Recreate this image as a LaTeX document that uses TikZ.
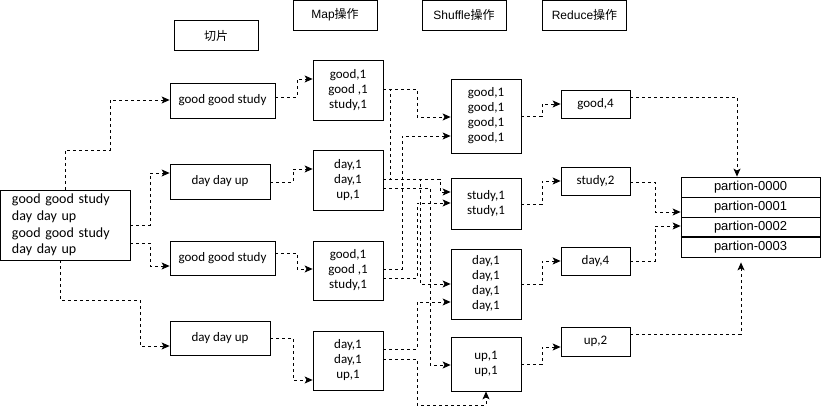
\documentclass[tikz,border=0pt]{standalone}
\usepackage{fontspec}
\setmainfont{Carlito}
\newfontfamily\arialfont{Liberation Sans}
\newfontfamily\cjk{Noto Sans CJK SC}
\usetikzlibrary{arrows.meta}

\tikzset{
	box/.style={draw, line width=0.8pt, inner sep=0pt, align=center, font=\fontsize{13}{15}\selectfont},
	head/.style={draw, line width=0.8pt, inner sep=0pt, minimum width=84pt, minimum height=30pt, font=\arialfont\fontsize{12}{14}\selectfont},
	part/.style={draw, line width=0.8pt, inner sep=0pt, minimum width=139pt, minimum height=20pt, font=\arialfont\fontsize{13}{15}\selectfont},
	flow/.style={draw, line width=0.8pt, dash pattern=on 3pt off 3pt, -{Stealth[length=8pt, width=7pt, inset=2pt]}}
}

\begin{document}
\begin{tikzpicture}[x=1pt, y=-1pt]
				
				\useasboundingbox (0,0) rectangle (821,419);
				
				\node[head] (cut) at (216,35.5) {{\cjk 切片}};
				
				\node[head] (hmap) at (335,15) {Map{\cjk 操作}};
				
				\node[head] (hshuf) at (464,15) {Shuffle{\cjk 操作}};
				
				\node[head] (hred) at (584.5,15) {Reduce{\cjk 操作}};
				
				\node[box, align=left, inner xsep=12pt, text width=106pt, minimum height=70pt, font=\fontsize{14}{16.7}\selectfont] (in) at (65,225) {good good study\\day day up\\good good study\\day day up};
				
				\node[box, minimum width=105pt, minimum height=35pt] (s1) at (222.5,100.5) {good good study};
				
				\node[box, minimum width=100pt, minimum height=35pt] (s2) at (220,181.5) {day day up};
				
				\node[box, minimum width=105pt, minimum height=34pt] (s3) at (222.5,258) {good good study};
				
				\node[box, minimum width=100pt, minimum height=34pt] (s4) at (220,338) {day day up};
				
				\node[box, minimum width=70pt, minimum height=60pt] (m1) at (348,90) {good,1\\good ,1\\study,1};
				
				\node[box, minimum width=70pt, minimum height=60pt] (m2) at (348,180) {day,1\\day,1\\up,1};
				
				\node[box, minimum width=70pt, minimum height=59pt] (m3) at (348,270.5) {good,1\\good ,1\\study,1};
				
				\node[box, minimum width=70pt, minimum height=59pt] (m4) at (348,360.5) {day,1\\day,1\\up,1};
				
				\node[box, minimum width=70pt, minimum height=74pt] (sh1) at (486,116) {good,1\\good,1\\good,1\\good,1};
				
				\node[box, minimum width=70pt, minimum height=51pt] (sh2) at (486,203.5) {study,1\\study,1};
				
				\node[box, minimum width=70pt, minimum height=70pt] (sh3) at (486,284) {day,1\\day,1\\day,1\\day,1};
				
				\node[box, minimum width=70pt, minimum height=54pt] (sh4) at (486,364) {up,1\\up,1};
				
				\node[box, minimum width=69pt, minimum height=28pt] (r1) at (595.5,104) {good,4};
				
				\node[box, minimum width=69pt, minimum height=28pt] (r2) at (595.5,181) {study,2};
				
				\node[box, minimum width=69pt, minimum height=28pt] (r3) at (595.5,261) {day,4};
				
				\node[box, minimum width=69pt, minimum height=29pt] (r4) at (595.5,341.5) {up,2};
				
				\node[part] (p0) at (750.5,187) {partion-0000};
				
				\node[part] (p1) at (750.5,207) {partion-0001};
				
				\node[part] (p2) at (750.5,227) {partion-0002};
				
				\node[part] (p3) at (750.5,247) {partion-0003};
				
				\draw[line width=1.8pt] (p2.south west) -- (p2.south east);
				
				\draw[flow] (in.north -| 65,0) |- (110,150) |- (s1.west |- 0,100);
				
				\draw[flow] (in.east |- 0,225) -| (150,173) -- (s2.west |- 0,173);
				
				\draw[flow] (in.east |- 0,243) -| (150,266) -- (s3.west |- 0,266);
				
				\draw[flow] (in.south -| 60,0) |- (140,300) |- (s4.west |- 0,346);
				
				\draw[flow] (s1.east |- 0,97) -| (297,79) -- (m1.west |- 0,79);
				
				\draw[flow] (s2.east |- 0,182) -| (293,169) -- (m2.west |- 0,169);
				
				\draw[flow] (s3.east |- 0,253) -| (297,269) -- (m3.west |- 0,269);
				
				\draw[flow] (s4.east |- 0,338) -| (293,380) -- (m4.west |- 0,380);
				
				\draw[flow] (m1.east |- 0,89) -| (417,117) -- (sh1.west |- 0,117);
				
				\draw[flow] (m1.east |- 0,89) -- (390,89) |- (440,179) |- (sh2.west |- 0,192);
				
				\draw[flow] (m2.east |- 0,179) -| (420,284) -- (sh3.west |- 0,284);
				
				\draw[flow] (m2.east |- 0,188) -| (430,365) -- (sh4.west |- 0,365);
				
				\draw[flow] (m3.east |- 0,269) -| (402,136) -- (sh1.west |- 0,136);
				
				\draw[flow] (m3.east |- 0,278) -| (417,203) -- (sh2.west |- 0,203);
				
				\draw[flow] (m4.east |- 0,349) -| (417,302) -- (sh3.west |- 0,302);
				
				\draw[flow] (m4.east |- 0,359) -| (417,405) -| (sh4.south);
				
				\draw[flow] (sh1.east |- 0,116) -| (542,104) -- (r1.west |- 0,104);
				
				\draw[flow] (sh2.east |- 0,204) -| (542,181) -- (r2.west |- 0,181);
				
				\draw[flow] (sh3.east |- 0,284) -| (542,261) -- (r3.west |- 0,261);
				
				\draw[flow] (sh4.east |- 0,364) -| (542,347) -- (r4.west |- 0,347);
				
				\draw[flow] (r1.east |- 0,97) -| (p0.north -| 737,0);
				
				\draw[flow] (r2.east |- 0,182) -| (655,212) -- (p1.west |- 0,212);
				
				\draw[flow] (r3.east |- 0,261) -| (655,226) -- (p2.west |- 0,226);
				
				\draw[flow, shorten >=5pt] (r4.east |- 0,334) -| (p3.south -| 741,0);
				
				\end{tikzpicture}
\end{document}
